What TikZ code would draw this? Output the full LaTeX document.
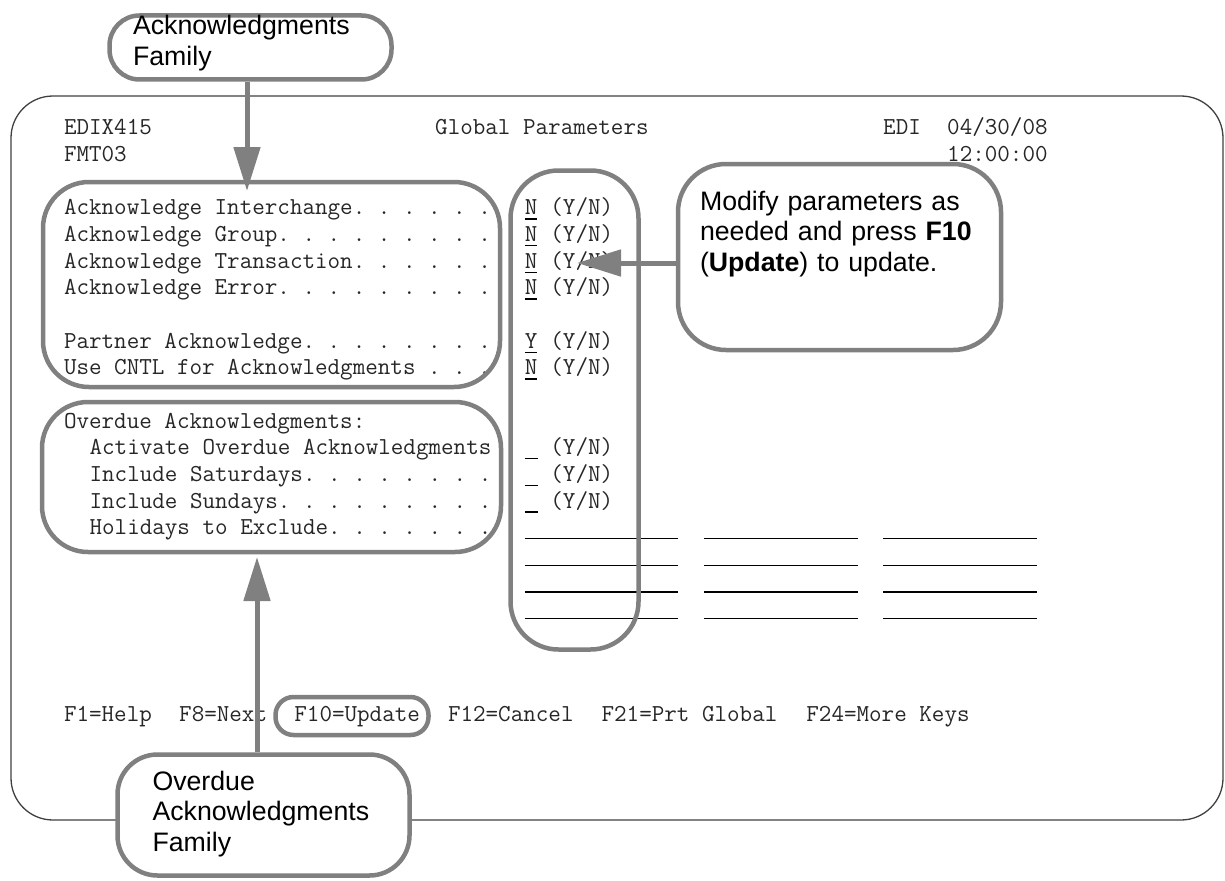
\documentclass[tikz,border=0pt]{standalone}
\usepackage{fontspec}
\setmainfont{Liberation Sans}
\usetikzlibrary{arrows.meta}
\definecolor{hgray}{HTML}{808080}
\begin{document}
\begin{tikzpicture}[x=1pt,y=-1pt,
  mono/.style={font=\ttfamily\fontsize{24.38}{28}\selectfont\frenchspacing, anchor=base west, inner sep=0pt, outer sep=0pt, text=black!85},
  hbox/.style={draw=hgray, line width=4.5pt, rounded corners=46pt, inner sep=0pt},
  callout/.style={draw=hgray, line width=4.5pt, fill=white, inner xsep=8pt, inner ysep=0pt, align=left, font=\fontsize{26.7}{30.7}\selectfont, text=black},
  garrow/.style={draw=hgray, line width=5pt, -{Triangle[length=44pt,width=26pt]}},
  uline/.style={draw=black, line width=1.3pt},
]
\useasboundingbox (0,0) rectangle (1225,880);
% screen frame
\draw[black!75, line width=1.3pt, rounded corners=42pt] (11,96) rectangle (1223,820);

% header
\node[mono] (hd1) at (64,135) {EDIX415};
\node[mono] (hd2) at (435.2,135) {Global Parameters};
\node[mono] (hd3) at (883.2,135) {EDI};
\node[mono] (hd4) at (947.2,135) {04/30/08};
\node[mono] (hd5) at (64,161.65) {FMT03};
\node[mono] (hd6) at (947.2,161.65) {12:00:00};

% acknowledgment labels
\node[mono] (l3) at (64,214.95) {Acknowledge Interchange. . . . . .};
\node[mono] (l4) at (64,241.6) {Acknowledge Group. . . . . . . . .};
\node[mono] (l5) at (64,268.25) {Acknowledge Transaction. . . . . .};
\node[mono] (l6) at (64,294.9) {Acknowledge Error. . . . . . . . .};
\node[mono] (l8) at (64,348.2) {Partner Acknowledge. . . . . . . .};
\node[mono] (l9) at (64,374.85) {Use CNTL for Acknowledgments . . .};
\node[mono] (l11) at (64,428.15) {Overdue Acknowledgments:};
\node[mono] (l12) at (89.6,454.8) {Activate Overdue Acknowledgments};
\node[mono] (l13) at (89.6,481.45) {Include Saturdays. . . . . . . .};
\node[mono] (l14) at (89.6,508.1) {Include Sundays. . . . . . . . .};
\node[mono] (l15) at (89.6,534.75) {Holidays to Exclude. . . . . . .};

% values
\node[mono] (v3) at (524.8,214.95) {N};
\node[mono] (v4) at (524.8,241.6) {N};
\node[mono] (v5) at (524.8,268.25) {N};
\node[mono] (v6) at (524.8,294.9) {N};
\node[mono] (v8) at (524.8,348.2) {Y};
\node[mono] (v9) at (524.8,374.85) {N};
\foreach \n in {v3,v4,v5,v6,v8,v9}
  \draw[uline] ([yshift=-4pt]\n.base west) -- ([yshift=-4pt]\n.base east);
\node[mono] (y3) at (550.4,214.95) {(Y/N)};
\node[mono] (y4) at (550.4,241.6) {(Y/N)};
\node[mono] (y5) at (550.4,268.25) {(Y/N)};
\node[mono] (y6) at (550.4,294.9) {(Y/N)};
\node[mono] (y8) at (550.4,348.2) {(Y/N)};
\node[mono] (y9) at (550.4,374.85) {(Y/N)};
\node[mono] (y12) at (550.4,454.8) {(Y/N)};
\node[mono] (y13) at (550.4,481.45) {(Y/N)};
\node[mono] (y14) at (550.4,508.1) {(Y/N)};
\foreach \yy in {458.8,485.45,512.1}
  \draw[uline] (524.8,\yy) -- (537.6,\yy);
\foreach \yy in {538.75,565.4,592.05,618.7}{
  \draw[uline] (524.8,\yy) -- (678.4,\yy);
  \draw[uline] (704,\yy) -- (857.6,\yy);
  \draw[uline] (883.2,\yy) -- (1036.8,\yy);
}

% function keys
\node[mono] (k1) at (64,721.3) {F1=Help};
\node[mono] (k2) at (179.2,721.3) {F8=Next};
\node[mono] (k3) at (294.4,721.3) {F10=Update};
\node[mono] (k4) at (448,721.3) {F12=Cancel};
\node[mono] (k5) at (601.6,721.3) {F21=Prt Global};
\node[mono] (k6) at (806.4,721.3) {F24=More Keys};

% highlight boxes
\node[hbox, minimum width=457pt, minimum height=205pt] (ackbox) at (271.5,284.5) {};
\node[hbox, minimum width=459pt, minimum height=150pt] (ovbox) at (271.5,477) {};
\node[hbox, rounded corners=48pt, minimum width=128pt, minimum height=479pt] (valbox) at (574.5,410) {};
\node[hbox, rounded corners=18pt, minimum width=153pt, minimum height=38pt] (f10box) at (352,716) {};

% callouts
\node[callout, rounded corners=30pt, minimum width=282pt, minimum height=64pt, text width=235pt, text height=19pt, text depth=44pt] (ackcall) at (250.5,47.5) {Acknowledgments\\Family};
\node[callout, rounded corners=48pt, minimum width=323pt, minimum height=186pt, text width=279pt, text height=20pt, text depth=114pt] (modcall) at (839.5,257) {Modify parameters as\\needed and press \textbf{F10}\\(\textbf{Update}) to update.};
\node[callout, rounded corners=40pt, minimum width=292pt, minimum height=121pt, text width=222pt, text height=19pt, text depth=69pt] (ovcall) at (263.5,815) {Overdue\\Acknowledgments\\Family};

% arrows
\coordinate (tip1) at (247,191);
\coordinate (tip2) at (577,263);
\coordinate (tip3) at (257,557);
\draw[garrow] (ackcall.south -| tip1) -- (tip1);
\draw[garrow] (modcall.west |- tip2) -- (tip2);
\draw[garrow] (ovcall.north -| tip3) -- (tip3);
\end{tikzpicture}
\end{document}
